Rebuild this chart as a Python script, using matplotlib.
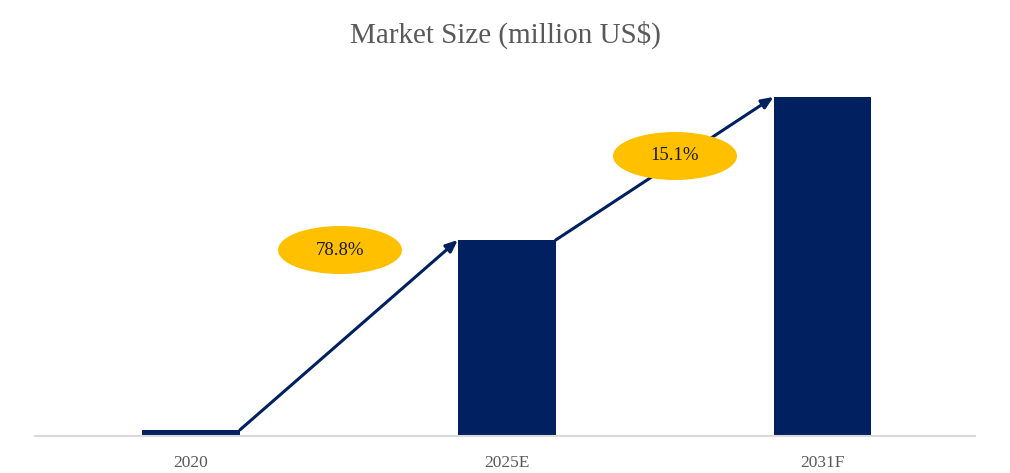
import matplotlib
matplotlib.use("Agg")
import matplotlib.pyplot as plt
from matplotlib.patches import Ellipse

categories = ["2020", "2025E", "2031F"]
values = [1.8, 57.8, 100.0]
growth_labels = ["78.8%", "15.1%"]

bar_color = "#002060"
gold = "#FFC000"
serif = ["Liberation Serif", "DejaVu Serif"]

fig = plt.figure(figsize=(10.10, 4.73), dpi=100)
ax = fig.add_axes([35/1010, 37/473, 940/1010, 356/473])
x = list(range(len(categories)))
w = 0.31
ax.bar(x, values, width=w, color=bar_color, zorder=2)
ax.set_xlim(-0.494, 2.483)
ax.set_ylim(0, 105.0)

for s in ["top", "right", "left"]:
    ax.spines[s].set_visible(False)
ax.spines["bottom"].set_color("#D9D9D9")
ax.spines["bottom"].set_linewidth(1.5)
ax.set_yticks([])
ax.set_xticks(x)
ax.set_xticklabels(categories, family=serif, fontsize=12.5, color="#595959")
ax.tick_params(axis="x", length=0, pad=14)

# growth arrows between bar tops
for i in range(len(categories) - 1):
    x0, y0 = x[i] + w/2, values[i]
    x1, y1 = x[i+1] - w/2, values[i+1]
    ax.annotate("", xy=(x1, y1), xytext=(x0, y0),
                arrowprops=dict(arrowstyle="-|>,head_length=0.7,head_width=0.3",
                                color=bar_color, lw=2.2, shrinkA=0, shrinkB=0),
                zorder=3)

# ellipses with growth labels (positions in pixel-space fractions)
ell_centers = [(340, 250), (675, 156)]
for (px, py), lab in zip(ell_centers, growth_labels):
    fx, fy = px/1010, (473 - py)/473
    e = Ellipse((fx, fy), 124/1010, 48/473, transform=fig.transFigure,
                facecolor=gold, edgecolor="none", zorder=4)
    fig.add_artist(e)
    fig.text(fx, fy, lab, ha="center", va="center", family=serif,
             fontsize=13.5, color="#1a1a1a", zorder=5)

fig.text(505/1010, (473 - 35)/473, "Market Size (million US$)", ha="center",
         va="center", family=serif, fontsize=21, color="#595959")

fig.savefig("out.png", dpi=100)
